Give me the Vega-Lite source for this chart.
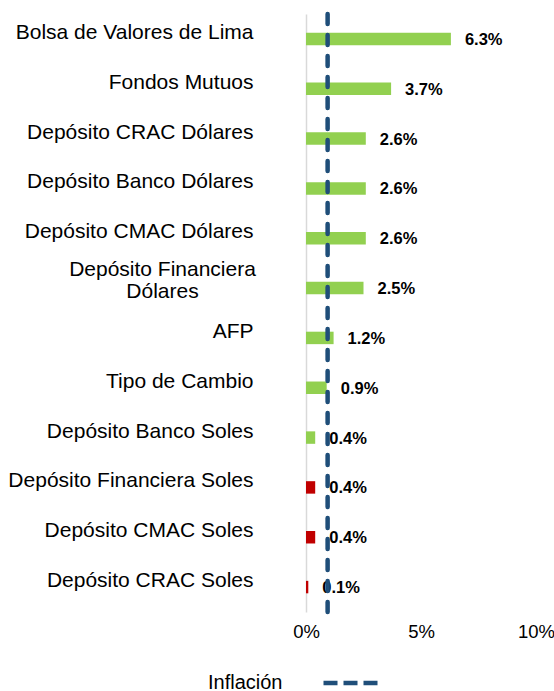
{
  "$schema": "https://vega.github.io/schema/vega-lite/v6.json",
  "width": 230,
  "height": 598,
  "autosize": {"type": "none"},
  "padding": {"left": 306, "top": 14, "right": 18, "bottom": 79},
  "background": "white",
  "config": {
    "view": {"stroke": null},
    "font": "Liberation Sans",
    "axis": {"labelFont": "Liberation Sans", "labelColor": "#000000", "grid": false, "ticks": false}
  },
  "datasets": {
    "rend": [
      {"instrumento": "Bolsa de Valores de Lima", "valor": 0.063, "signo": "positivo"},
      {"instrumento": "Fondos Mutuos", "valor": 0.037, "signo": "positivo"},
      {"instrumento": "Depósito CRAC Dólares", "valor": 0.026, "signo": "positivo"},
      {"instrumento": "Depósito Banco Dólares", "valor": 0.026, "signo": "positivo"},
      {"instrumento": "Depósito CMAC Dólares", "valor": 0.026, "signo": "positivo"},
      {"instrumento": "Depósito Financiera Dólares", "valor": 0.025, "signo": "positivo"},
      {"instrumento": "AFP", "valor": 0.012, "signo": "positivo"},
      {"instrumento": "Tipo de Cambio", "valor": 0.009, "signo": "positivo"},
      {"instrumento": "Depósito Banco Soles", "valor": 0.004, "signo": "positivo"},
      {"instrumento": "Depósito Financiera Soles", "valor": 0.004, "signo": "negativo"},
      {"instrumento": "Depósito CMAC Soles", "valor": 0.004, "signo": "negativo"},
      {"instrumento": "Depósito CRAC Soles", "valor": 0.001, "signo": "negativo"}
    ],
    "infl": [{"serie": "Inflación", "valor": 0.0094}]
  },
  "layer": [
    {
      "data": {"name": "rend"},
      "mark": {"type": "bar"},
      "encoding": {
        "y": {
          "field": "instrumento", "type": "nominal", "sort": null, "title": null,
          "scale": {"paddingInner": 0.75, "paddingOuter": 0.375},
          "axis": {
            "domainColor": "#d9d9d9", "domainWidth": 1.5,
            "labelPadding": {"condition": {"test": "datum.value == 'Depósito Financiera Dólares'", "value": 144}, "value": 53},
            "labelAlign": {"condition": {"test": "datum.value == 'Depósito Financiera Dólares'", "value": "center"}, "value": "right"},
            "labelOffset": {"condition": {"test": "datum.value == 'Depósito Financiera Dólares'", "value": -18}, "value": -6},
            "labelLimit": 400, "labelFontSize": 21, "labelLineHeight": 22,
            "labelExpr": "datum.value == 'Depósito Financiera Dólares' ? ['Depósito Financiera', 'Dólares'] : datum.value"
          }
        },
        "x": {
          "field": "valor", "type": "quantitative", "title": null,
          "scale": {"domain": [0, 0.1], "nice": false},
          "axis": {"values": [0, 0.05, 0.1], "format": ".0%", "domain": false, "labelPadding": 10, "labelFlush": false, "labelFontSize": 18.5}
        },
        "fill": {
          "field": "signo", "type": "nominal",
          "scale": {"domain": ["positivo", "negativo"], "range": ["#92d050", "#c00000"]},
          "legend": null
        }
      }
    },
    {
      "data": {"name": "rend"},
      "mark": {"type": "text", "align": "left", "baseline": "middle", "dx": 14, "dy": 1, "fontSize": 16.5, "fontWeight": "bold", "color": "#000000"},
      "encoding": {
        "y": {"field": "instrumento", "type": "nominal", "sort": null},
        "x": {"field": "valor", "type": "quantitative"},
        "text": {"field": "valor", "type": "quantitative", "format": ".1%"}
      }
    },
    {
      "data": {"name": "infl"},
      "mark": {"type": "rule", "strokeWidth": 4.5, "strokeDash": [10, 11], "strokeCap": "round"},
      "encoding": {
        "x": {"field": "valor", "type": "quantitative"},
        "stroke": {
          "field": "serie", "type": "nominal",
          "scale": {"domain": ["Inflación"], "range": ["#1f4e79"]},
          "legend": {
            "orient": "none", "legendX": -98, "legendY": 639,
            "title": "Inflación", "titleOrient": "left", "titleFontSize": 20, "titleFontWeight": "normal",
            "titleColor": "#000000", "titleFont": "Liberation Sans", "titlePadding": 38,
            "titleAnchor": "middle", "titleBaseline": "top",
            "labelExpr": "''", "symbolType": "stroke", "symbolSize": 3025,
            "symbolStrokeWidth": 4.5, "symbolDash": [14, 6], "symbolStrokeColor": "#1f4e79"
          }
        }
      }
    }
  ]
}
